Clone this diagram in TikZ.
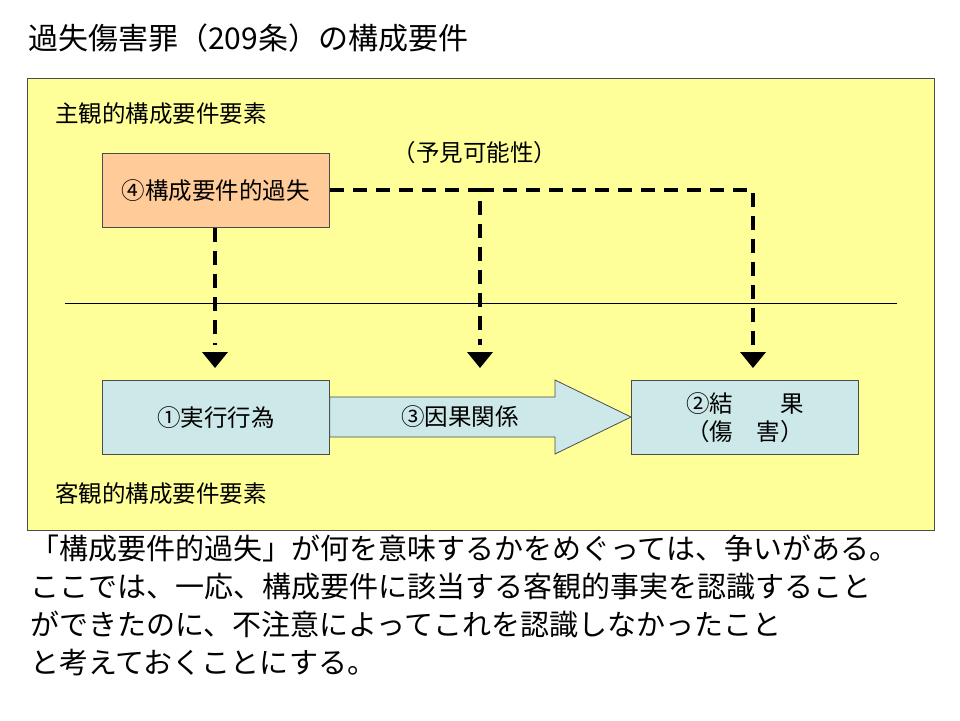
\documentclass[tikz,border=0pt]{standalone}
\usepackage{fontspec}
\setmainfont{Noto Sans CJK JP}
\begin{document}
\begin{tikzpicture}[x=1pt,y=-1pt,
 box/.style={draw=black!70,line width=0.8pt,anchor=north west,inner sep=0pt},
 dsh/.style={line width=4.5pt,dash pattern=on 14pt off 9pt},
 lab/.style={anchor=west,inner sep=0pt,font=\fontsize{23.5}{26}\selectfont},
 bt/.style={font=\fontsize{23.5}{28}\selectfont}]
\useasboundingbox (0,0) rectangle (960,720);
\node[anchor=west,inner sep=0pt,font=\fontsize{30}{34}\selectfont] (title) at (28,38) {過失傷害罪（209条）の構成要件};
\node[box,fill={rgb,255:red,255;green,255;blue,153},minimum width=907pt,minimum height=452pt] (bg) at (27,78) {};
\node[lab] (subj) at (55,114) {主観的構成要件要素};
\node[lab] (obj) at (55,494) {客観的構成要件要素};
\node[box,fill={rgb,255:red,255;green,204;blue,153},minimum width=227pt,minimum height=74pt] (k) at (102,153) {};
\node[bt] at (k.center) {④構成要件的過失};
\node[lab,anchor=center] (yoken) at (475,153) {（予見可能性）};
\draw[line width=0.6pt] (65,303) coordinate (l1) -- (897,303) coordinate (l2);
\coordinate (a1) at (215,345); \coordinate (a2) at (480,345); \coordinate (a3) at (753,345);
\coordinate (c1) at (480,190); \coordinate (c2) at (753,190);
\draw[dsh] (k.south -| a1) -- (a1);
\draw[dsh] (k.east |- c1) -- (c1) -- (a2);
\draw[dsh] (c1) -- (c2) -- (a3);
\foreach \x in {215,480,753} \fill (\x-13,352) -- (\x+13,352) -- (\x,368) -- cycle;
\colorlet{bl}{rgb,255:red,204;green,232;blue,232}
\node[box,fill=bl,minimum width=227pt,minimum height=74pt] (b1) at (102,380) {};
\node[bt] at (b1.center) {①実行行為};
\node[box,fill=bl,minimum width=227pt,minimum height=74pt] (b2) at (631,380) {};
\node[bt,align=center] at (b2.center) {②結　　果\\（傷　害）};
\draw[draw=black!70,line width=0.8pt,fill=bl] (b1.east |- 0,397) -- (555,397) -- (555,380) -- (b2.west |- 0,417) -- (555,454) -- (555,437) -- (b1.east |- 0,437) -- cycle;
\node[bt] (inga) at (460,417) {③因果関係};
\node[anchor=north west,inner sep=0pt,align=left,font=\fontsize{29}{38}\selectfont] (txt) at (30,535) {「構成要件的過失」が何を意味するかをめぐっては、争いがある。\\ここでは、一応、構成要件に該当する客観的事実を認識すること\\ができたのに、不注意によってこれを認識しなかったこと\\と考えておくことにする。};
\end{tikzpicture}
\end{document}
